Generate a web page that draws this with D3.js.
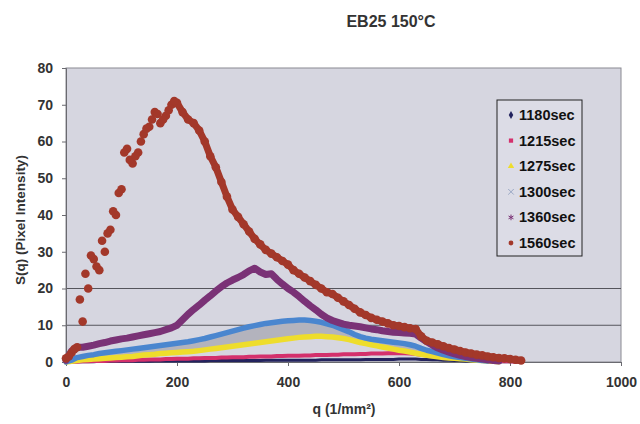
<!DOCTYPE html>
<html><head><meta charset="utf-8">
<script src="https://cdn.jsdelivr.net/npm/d3@7"></script>
<style>body{margin:0;background:#fff}text{font-family:"Liberation Sans",Arial,sans-serif}</style>
</head><body><svg id="c" width="640" height="424"></svg>
<script>
const title = "EB25 150°C";
const xLabel = "q (1/mm²)";
const yLabel = "S(q) (Pixel Intensity)";
const xTicks = [0,200,400,600,800,1000];
const yTicks = [0,10,20,30,40,50,60,70,80];
const gridValues = [10,20];
const seriesNames = ["1180sec","1215sec","1275sec","1300sec","1360sec","1560sec"];
const qValues = d3.range(0, 830, 10);
const s1180 = [0.1,0.1,0.1,0.1,0.1,0.1,0.2,0.2,0.2,0.2,0.2,0.2,0.2,0.2,0.2,0.2,0.3,0.3,0.3,0.3,0.3,0.3,0.3,0.3,0.3,0.3,0.4,0.4,0.4,0.4,0.4,0.4,0.4,0.4,0.4,0.4,0.5,0.5,0.5,0.5,0.5,0.5,0.5,0.5,0.5,0.5,0.6,0.6,0.6,0.6,0.6,0.6,0.6,0.6,0.7,0.7,0.7,0.7,0.7,0.7,0.8,0.8,0.8,0.8,0.7,0.7,0.6,0.6,0.5,0.5,0.4,0.4,0.3,0.3,0.2,0.2,0.2,0.1,0.1,0.1,0.1,0.1,0.1];
const s1215 = [0,0.1,0.1,0.2,0.2,0.3,0.3,0.3,0.4,0.4,0.5,0.5,0.5,0.6,0.6,0.7,0.7,0.7,0.8,0.8,0.9,0.9,0.9,1.0,1.0,1.1,1.1,1.1,1.2,1.2,1.3,1.3,1.3,1.4,1.4,1.5,1.5,1.5,1.6,1.6,1.7,1.7,1.7,1.8,1.8,1.9,1.9,1.9,2.0,2.0,2.1,2.1,2.1,2.2,2.2,2.3,2.3,2.3,2.4,2.4,2.4,2.4,2.3,2.2,2.0,1.8,1.6,1.4,1.3,1.1,1.0,0.9,0.8,0.6,0.5,0.5,0.4,0.3,0.3,0.2,0.2,0.1,0.1];
const s1275 = [0,0.2,0.4,0.6,0.7,0.8,0.9,1.0,1.1,1.2,1.3,1.4,1.5,1.7,1.9,2.0,2.1,2.3,2.4,2.5,2.6,2.7,2.8,2.9,3.1,3.3,3.5,3.7,3.9,4.1,4.3,4.5,4.7,4.9,5.1,5.3,5.5,5.7,5.9,6.1,6.3,6.5,6.7,6.8,6.9,7.0,7.0,6.9,6.8,6.6,6.4,6.1,5.7,5.3,5.0,4.7,4.4,4.1,3.8,3.5,3.2,3.0,2.7,2.4,2.1,1.8,1.6,1.4,1.2,1.1,1.0,0.9,0.8,0.6,0.5,0.4,0.3,0.2,0.1,null,null,null,null];
const s1300 = [0,0.5,1.2,1.5,1.8,2.0,2.3,2.5,2.7,2.9,3.1,3.3,3.5,3.7,3.9,4.1,4.3,4.5,4.7,4.9,5.1,5.3,5.5,5.8,6.1,6.4,6.8,7.2,7.6,8.0,8.4,8.8,9.2,9.6,9.9,10.2,10.5,10.7,10.9,11.1,11.2,11.3,11.4,11.4,11.3,11.1,10.8,10.4,10.0,9.4,8.8,8.2,7.5,6.9,6.5,6.2,6.0,5.8,5.6,5.4,5.2,5.0,4.7,4.3,3.7,3.2,2.8,2.4,2.0,1.7,1.4,1.2,1.0,0.8,0.6,0.4,0.3,null,null,null,null,null,null];
const s1360 = [0.5,3.0,4.0,4.0,4.3,4.6,5.0,5.3,5.7,6.0,6.3,6.5,6.8,7.1,7.4,7.7,8.0,8.3,8.8,9.3,10.0,11.5,13.0,14.3,15.5,16.8,18.0,19.3,20.5,21.5,22.3,23.0,23.8,24.8,25.5,24.5,23.8,24.0,22.5,21.2,20.0,19.0,17.8,16.5,15.3,14.2,13.0,12.0,11.3,10.8,10.3,10.0,9.8,9.6,9.3,9.0,8.8,8.5,8.3,8.1,8.0,7.9,7.8,7.6,6.5,5.5,4.6,3.8,3.2,2.7,2.2,1.8,1.5,1.2,1.0,0.8,0.6,0.4,0.3,null,null,null,null];
const s1560 = [1.0,2.5,4.0,11.0,20.0,28.0,25.0,30.0,36.0,40.0,47.0,58.0,54.0,57.0,62.0,64.0,68.0,65.0,67.0,70.0,70.5,68.0,66.0,65.0,63.0,60.0,56.0,53.0,49.0,45.0,41.5,39.5,37.5,35.5,33.5,32.0,30.5,29.5,28.5,27.5,26.5,25.0,24.0,23.0,22.0,21.0,20.0,19.0,18.5,17.5,16.5,15.5,14.5,13.5,12.8,12.0,11.5,11.0,10.5,10.0,9.8,9.5,9.2,9.0,7.0,5.8,5.3,4.8,4.3,3.8,3.4,3.0,2.6,2.3,2.0,1.8,1.5,1.3,1.1,1.0,0.8,0.6,0.4];
// extra 1560 points read between the 10-step samples in the noisy rising part
const qExtra1560 = [5,15,25,35,45,55,65,75,85,95,105,115,125,135,145,155,165,175,185,195];
const s1560extra = [1.5,3.5,17.0,24.0,29.0,26.0,33.0,35.0,41.0,46.0,57.0,55.0,56.0,60.0,63.5,66.0,67.5,66.0,68.5,71.0];
const seriesValues = [s1180,s1215,s1275,s1300,s1360,s1560];
const seriesColors = ["#23235e","#d4306c","#eedd2c","#4a86cf","#7a3276","#a3382a"];

const svg = d3.select("#c");
const x = d3.scaleLinear().domain([0,1000]).range([66,621]);
const y = d3.scaleLinear().domain([0,80]).range([362,68]);

svg.append("rect").attr("x",x(0)).attr("y",y(80)).attr("width",x(1000)-x(0)).attr("height",y(0)-y(80))
  .attr("fill","#d6d6e0").attr("stroke","#8a8a92").attr("stroke-width",1);

svg.selectAll(".grid").data(gridValues).join("line")
  .attr("x1",x(0)).attr("x2",x(1000)).attr("y1",d=>y(d)).attr("y2",d=>y(d))
  .attr("stroke","#55555c").attr("stroke-width",1);

const xAxis = svg.append("g").attr("transform",`translate(0,${y(0)})`)
  .call(d3.axisBottom(x).tickValues(xTicks).tickFormat(d3.format("d")).tickSize(4).tickPadding(11));
const yAxis = svg.append("g").attr("transform",`translate(${x(0)},0)`)
  .call(d3.axisLeft(y).tickValues(yTicks).tickFormat(d3.format("d")).tickSize(4).tickPadding(9));
[xAxis,yAxis].forEach(g=>{
  g.select(".domain").attr("stroke","#6a6a70");
  g.selectAll(".tick line").attr("stroke","#6a6a70");
  g.selectAll(".tick text").attr("font-size",14).attr("font-weight","bold").attr("fill","#333")
   .style("font-family","'Liberation Sans',Arial,sans-serif");
});

const pts = i => qValues.map((q,j)=>({q, v: seriesValues[i][j]})).filter(d=>d.v!=null);

// spread band of 1300 markers (grey) between yellow and blue
const area = d3.area().x(d=>x(d.q)).y0(d=>y(d.lo)).y1(d=>y(d.hi));
const spread = qValues.map((q,j)=>({q, lo: s1275[j], hi: s1300[j]})).filter(d=>d.lo!=null&&d.hi!=null);
svg.append("path").datum(spread).attr("d",area).attr("fill","#b3b3bd");

const line = d3.line().x(d=>x(d.q)).y(d=>y(d.v));
const widths = [3,4,5.5,5.5,7,7];
seriesValues.forEach((s,i)=>{
  const p = i===5 ? pts(i).filter(d=>d.q>=190) : pts(i);
  svg.append("path").datum(p).attr("d",line).attr("fill","none")
    .attr("stroke",seriesColors[i]).attr("stroke-width",widths[i])
    .attr("stroke-linejoin","round").attr("stroke-linecap","round");
  if (i===5) {
    const extra = qExtra1560.map((q,j)=>({q, v: s1560extra[j]}));
    svg.append("g").selectAll("circle").data(pts(i).concat(extra)).join("circle")
      .attr("cx",d=>x(d.q)).attr("cy",d=>y(d.v)).attr("r",4.3).attr("fill",seriesColors[i]);
  }
});

// title and axis titles
svg.append("text").attr("x",391).attr("y",27).attr("text-anchor","middle")
  .attr("font-size",16).attr("font-weight","bold").attr("fill","#333").text(title);
svg.append("text").attr("x",344).attr("y",414).attr("text-anchor","middle")
  .attr("font-size",14).attr("font-weight","bold").attr("fill","#333").text(xLabel);
svg.append("text").attr("transform","translate(25,220) rotate(-90)").attr("text-anchor","middle")
  .attr("font-size",13.5).attr("font-weight","bold").attr("fill","#333").text(yLabel);

// legend
const lg = svg.append("g");
lg.append("rect").attr("x",497).attr("y",100).attr("width",85).attr("height",156)
  .attr("fill","#dcdce6").attr("stroke","#222").attr("stroke-width",1);
const symbols = [d3.symbolDiamond,d3.symbolSquare,d3.symbolTriangle,d3.symbolX,d3.symbolAsterisk,d3.symbolCircle];
seriesNames.forEach((n,i)=>{
  const yy = 115 + i*25.6;
  const sym = d3.symbol().type(symbols[i]).size(i===3||i===4?22:18);
  const p = lg.append("path").attr("d",sym()).attr("transform",`translate(511,${yy})`);
  if (i===3||i===4) p.attr("fill","none").attr("stroke",i===3?"#9aa8c4":seriesColors[i]).attr("stroke-width",1);
  else p.attr("fill",seriesColors[i]);
  lg.append("text").attr("x",519).attr("y",yy+5).attr("font-size",14.5).attr("font-weight","bold")
    .attr("fill","#111").text(n);
});
</script></body></html>
